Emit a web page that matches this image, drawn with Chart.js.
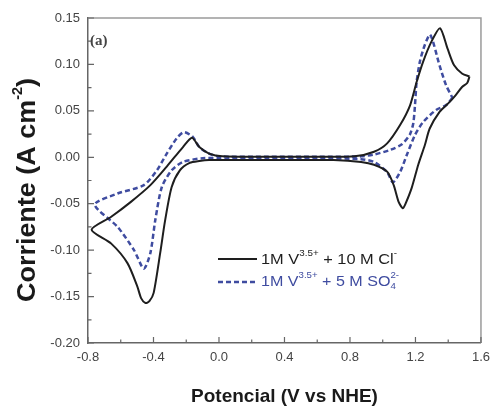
<!DOCTYPE html>
<html>
<head>
<meta charset="utf-8">
<title>Voltametría cíclica</title>
<script src="https://cdn.jsdelivr.net/npm/chart.js@4.4.1/dist/chart.umd.min.js"></script>
<style>
  html, body { margin: 0; padding: 0; background: #fff; }
  #cv { display: block; }
</style>
</head>
<body>
<canvas id="cv" width="497" height="406"></canvas>
<script>
// 1M V3.5+ + 10 M Cl- (solid black), scan starts at the positive vertex
const clPotential = [1.53, 1.516, 1.486, 1.446, 1.40, 1.347, 1.287, 1.257, 1.217, 1.177, 1.137, 1.123, 1.097, 1.067, 1.027, 0.947, 0.868, 0.70, 0.40, 0.10, -0.06, -0.12, -0.179, -0.239, -0.289, -0.329, -0.359, -0.399, -0.425, -0.449, -0.475, -0.499, -0.559, -0.658, -0.778, -0.658, -0.538, -0.419, -0.319, -0.22, -0.165, -0.12, -0.06, 0.02, 0.30, 0.60, 0.828, 0.947, 1.027, 1.107, 1.167, 1.207, 1.247, 1.296, 1.35, 1.396, 1.436, 1.486, 1.53]
const clCurrent = [0.087, 0.080, 0.076, 0.067, 0.058, 0.049, 0.031, 0.013, -0.008, -0.033, -0.051, -0.055, -0.048, -0.030, -0.0155, -0.008, -0.005, -0.003, -0.003, -0.003, -0.003, -0.004, -0.006, -0.014, -0.032, -0.068, -0.103, -0.146, -0.155, -0.157, -0.152, -0.139, -0.114, -0.093, -0.078, -0.064, -0.048, -0.030, -0.010, 0.011, 0.021, 0.011, 0.004, 0.001, 0.0005, 0.0005, 0.001, 0.006, 0.015, 0.035, 0.056, 0.081, 0.103, 0.124, 0.139, 0.117, 0.099, 0.090, 0.087]

// 1M V3.5+ + 5 M SO4 2- (dashed blue)
const so4Potential = [1.426, 1.386, 1.326, 1.247, 1.197, 1.147, 1.107, 1.062, 1.027, 0.947, 0.868, 0.60, 0.30, 0.0, -0.10, -0.22, -0.289, -0.349, -0.389, -0.419, -0.459, -0.519, -0.619, -0.758, -0.619, -0.459, -0.379, -0.319, -0.26, -0.215, -0.16, -0.12, -0.06, 0.0, 0.30, 0.60, 0.868, 0.947, 1.047, 1.117, 1.167, 1.187, 1.197, 1.207, 1.227, 1.257, 1.29, 1.347, 1.386, 1.426]
const so4Current = [0.064, 0.056, 0.051, 0.038, 0.024, 0.0025, -0.0155, -0.027, -0.016, -0.005, -0.002, -0.001, -0.001, -0.001, -0.001, -0.005, -0.014, -0.032, -0.0675, -0.103, -0.120, -0.100, -0.075, -0.051, -0.039, -0.030, -0.014, 0.004, 0.020, 0.027, 0.022, 0.011, 0.004, 0.001, 0.0005, 0.0005, 0.001, 0.003, 0.008, 0.014, 0.025, 0.037, 0.056, 0.081, 0.103, 0.121, 0.132, 0.099, 0.078, 0.064]

const xTickValues = [-0.8, -0.4, 0, 0.4, 0.8, 1.2, 1.6]
const xTickLabels = ['-0.8', '-0.4', '0.0', '0.4', '0.8', '1.2', '1.6']
const xMinorTicks = [-0.6, -0.2, 0.2, 0.6, 1.0, 1.4]
const yTickValues = [-0.2, -0.15, -0.1, -0.05, 0, 0.05, 0.1, 0.15]
const yTickLabels = ['-0.20', '-0.15', '-0.10', '-0.05', '0.00', '0.05', '0.10', '0.15']
const yMinorTicks = [-0.175, -0.125, -0.075, -0.025, 0.025, 0.075, 0.125]

const BLACK = '#1e1e1e'
const BLUE = '#3f4ca0'
const SANS = '"Liberation Sans", Arial, sans-serif'

const toPoints = (xs, ys) => xs.map((x, i) => ({ x, y: ys[i] }))

// draws text with super/subscripts, squeezed to the given width
const drawRich = (ctx, parts, x, y, width, color) => {
    let pos = 0
    let prevW = 0
    const placed = parts.map(p => {
        ctx.font = p.font
        const w = ctx.measureText(p.text).width
        if (p.back) pos -= prevW
        const item = { ...p, at: pos }
        pos += w
        prevW = w
        return item
    })
    const k = width ? width / pos : 1
    ctx.save()
    ctx.translate(x, y)
    ctx.scale(k, 1)
    ctx.fillStyle = color
    ctx.textAlign = 'left'
    ctx.textBaseline = 'middle'
    placed.forEach(p => {
        ctx.font = p.font
        ctx.fillText(p.text, p.at, p.dy || 0)
    })
    ctx.restore()
}

const framePlugin = {
    id: 'frame',
    afterDraw(chart) {
        const { ctx, chartArea: a, scales: { x, y } } = chart
        ctx.save()
        ctx.strokeStyle = '#9a9a9a'
        ctx.lineWidth = 1.5
        ctx.beginPath()
        ctx.moveTo(a.left, a.top)
        ctx.lineTo(a.right, a.top)
        ctx.lineTo(a.right, a.bottom)
        ctx.stroke()

        // inward tick marks
        ctx.strokeStyle = '#666'
        ctx.lineWidth = 1.2
        ctx.beginPath()
        xTickValues.concat(xMinorTicks).forEach(v => {
            const px = x.getPixelForValue(v)
            const len = xTickValues.includes(v) ? 6 : 3.5
            ctx.moveTo(px, a.bottom)
            ctx.lineTo(px, a.bottom - len)
        })
        yTickValues.concat(yMinorTicks).forEach(v => {
            const py = y.getPixelForValue(v)
            const len = yTickValues.includes(v) ? 6 : 3.5
            ctx.moveTo(a.left, py)
            ctx.lineTo(a.left + len, py)
        })
        ctx.stroke()
        ctx.restore()
    }
}

const notesPlugin = {
    id: 'notes',
    afterDraw(chart) {
        const ctx = chart.ctx
        ctx.save()

        ctx.fillStyle = '#444'
        ctx.font = 'bold 15px "Liberation Serif", "DejaVu Serif", serif'
        ctx.textBaseline = 'middle'
        ctx.fillText('(a)', 90, 41)

        // y axis title with superscript
        ctx.save()
        ctx.translate(28, 190)
        ctx.rotate(-Math.PI / 2)
        const titleParts = [
            { text: 'Corriente (A cm', font: `bold 26px ${SANS}` },
            { text: '-2', font: `bold 14px ${SANS}`, dy: -10 },
            { text: ')', font: `bold 26px ${SANS}` }
        ]
        drawRich(ctx, titleParts, -112, 0, 224, '#1a1a1a')
        ctx.restore()

        // legend
        ctx.lineWidth = 2
        ctx.strokeStyle = BLACK
        ctx.beginPath()
        ctx.moveTo(218, 259)
        ctx.lineTo(257, 259)
        ctx.stroke()
        ctx.strokeStyle = BLUE
        ctx.lineWidth = 2.5
        ctx.setLineDash([5, 3])
        ctx.beginPath()
        ctx.moveTo(218, 282)
        ctx.lineTo(258, 282)
        ctx.stroke()
        ctx.setLineDash([])

        const big = `15px ${SANS}`
        const small = `9px ${SANS}`
        drawRich(ctx, [
            { text: '1M V', font: big },
            { text: '3.5+', font: small, dy: -6 },
            { text: ' + 10 M Cl', font: big },
            { text: '-', font: small, dy: -6 }
        ], 261, 260, 136, BLACK)
        drawRich(ctx, [
            { text: '1M V', font: big },
            { text: '3.5+', font: small, dy: -6 },
            { text: ' + 5 M SO', font: big },
            { text: '4', font: small, dy: 5 },
            { text: '2-', font: small, dy: -6, back: true }
        ], 261, 282, 138, BLUE)

        ctx.restore()
    }
}

Chart.register(framePlugin, notesPlugin)

const ctx = document.getElementById('cv').getContext('2d')
new Chart(ctx, {
    type: 'scatter',
    data: {
        datasets: [
            {
                label: '1M V3.5+ + 10 M Cl-',
                data: toPoints(clPotential, clCurrent),
                showLine: true,
                borderColor: BLACK,
                borderWidth: 2,
                pointRadius: 0,
                tension: 0.25
            },
            {
                label: '1M V3.5+ + 5 M SO4 2-',
                data: toPoints(so4Potential, so4Current),
                showLine: true,
                borderColor: BLUE,
                borderWidth: 2.5,
                borderDash: [5, 3],
                borderCapStyle: 'butt',
                pointRadius: 0,
                tension: 0.25
            }
        ]
    },
    options: {
        responsive: false,
        animation: false,
        layout: { padding: { left: 0, right: 8, top: 18, bottom: 0 } },
        plugins: {
            legend: { display: false },
            tooltip: { enabled: false }
        },
        scales: {
            x: {
                type: 'linear',
                min: -0.8,
                max: 1.6,
                afterBuildTicks: scale => { scale.ticks = xTickValues.map(value => ({ value })) },
                afterFit: scale => { scale.height = 63 },
                grid: { display: false, drawTicks: false },
                border: { display: true, color: '#666', width: 1.5 },
                ticks: {
                    autoSkip: false,
                    maxRotation: 0,
                    padding: 7,
                    color: '#444',
                    font: { family: SANS, size: 13 },
                    callback: (value, index) => xTickLabels[index]
                },
                title: {
                    display: true,
                    text: 'Potencial (V vs NHE)',
                    color: '#1a1a1a',
                    padding: 0,
                    font: { family: SANS, size: 19, weight: 'bold', lineHeight: 1 }
                }
            },
            y: {
                type: 'linear',
                min: -0.2,
                max: 0.15,
                afterBuildTicks: scale => { scale.ticks = yTickValues.map(value => ({ value })) },
                afterFit: scale => { scale.width = 88 },
                grid: { display: false, drawTicks: false },
                border: { display: true, color: '#666', width: 1.5 },
                ticks: {
                    autoSkip: false,
                    padding: 8,
                    color: '#444',
                    font: { family: SANS, size: 13 },
                    callback: (value, index) => yTickLabels[index]
                }
            }
        }
    }
})
</script>
</body>
</html>
